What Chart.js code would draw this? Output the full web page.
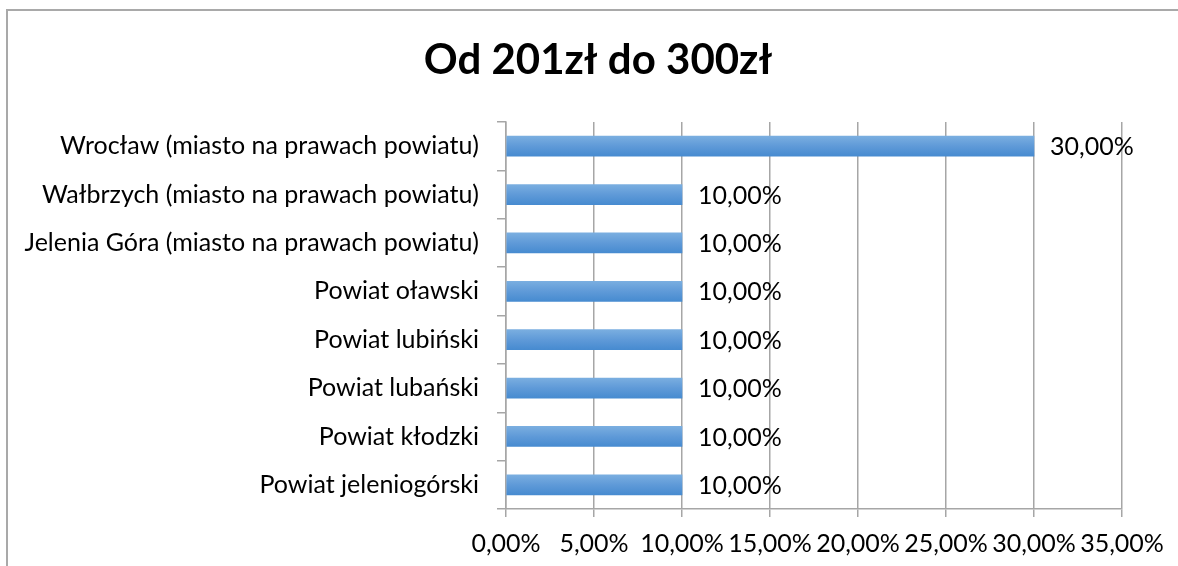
<!DOCTYPE html>
<html>
<head>
<meta charset="utf-8">
<script src="https://cdn.jsdelivr.net/npm/chart.js@4"></script>
<style>
  html, body { margin: 0; padding: 0; background: #fff; overflow: hidden; }
  #wrap { width: 1178px; height: 566px; }
  canvas { display: block; }
</style>
</head>
<body>
<div id="wrap"><canvas id="myChart" width="1178" height="566"></canvas></div>
<script>
const categories = [
  'Wrocław (miasto na prawach powiatu)',
  'Wałbrzych (miasto na prawach powiatu)',
  'Jelenia Góra (miasto na prawach powiatu)',
  'Powiat oławski',
  'Powiat lubiński',
  'Powiat lubański',
  'Powiat kłodzki',
  'Powiat jeleniogórski'
];
const shares = [30, 10, 10, 10, 10, 10, 10, 10];
const titleText = 'Od 201zł do 300zł';

const FONT = 'Lato, "Open Sans", sans-serif';

function pct(v) {
  return v.toFixed(2).replace('.', ',') + '%';
}

// Excel-like frame: only top and left edges are inside the picture
const framePlugin = {
  id: 'frame',
  beforeDraw(chart) {
    const c = chart.ctx;
    c.save();
    c.fillStyle = '#fff';
    c.fillRect(0, 0, chart.width, chart.height);
    c.strokeStyle = '#a9a9a9';
    c.lineWidth = 2;
    c.beginPath();
    c.moveTo(7, chart.height);
    c.lineTo(7, 10);
    c.lineTo(chart.width, 10);
    c.stroke();
    c.restore();
  }
};

// value labels at the end of the bars
const valueLabels = {
  id: 'valueLabels',
  afterDatasetsDraw(chart) {
    const c = chart.ctx;
    const meta = chart.getDatasetMeta(0);
    c.save();
    c.font = '25px ' + FONT;
    c.fillStyle = '#000';
    c.textBaseline = 'middle';
    c.textAlign = 'left';
    meta.data.forEach((bar, i) => {
      c.fillText(pct(shares[i]), bar.x + 16, bar.y + 1);
    });
    c.restore();
  }
};

function barFill(context) {
  const chart = context.chart;
  const yScale = chart.scales && chart.scales.y;
  if (!yScale || !chart.chartArea) return '#5f9ad8';
  const y = yScale.getPixelForValue(context.dataIndex);
  if (!Number.isFinite(y)) return '#5f9ad8';
  const h = 10;
  const g = chart.ctx.createLinearGradient(0, y - h, 0, y + h);
  g.addColorStop(0, '#7aaee0');
  g.addColorStop(0.5, '#5f9ad8');
  g.addColorStop(1, '#478bd0');
  return g;
}

var ctx = document.getElementById('myChart');

const barChart = new Chart(ctx, {
  type: 'bar',
  data: {
    labels: categories,
    datasets: [{
      data: shares,
      backgroundColor: barFill,
      borderWidth: 0,
      barThickness: 20
    }]
  },
  options: {
    indexAxis: 'y',
    responsive: false,
    animation: false,
    layout: { padding: { top: 10, right: 0, left: 18, bottom: 0 } },
    plugins: {
      legend: { display: false },
      tooltip: { enabled: false },
      title: {
        display: true,
        text: titleText,
        color: '#000',
        font: { family: FONT, size: 42, weight: 'bold' },
        padding: { top: 25, bottom: 36.6 }
      }
    },
    scales: {
      x: {
        min: 0,
        max: 35,
        ticks: {
          stepSize: 5,
          color: '#000',
          font: { family: FONT, size: 25 },
          padding: 12,
          maxRotation: 0,
          callback: v => pct(v)
        },
        grid: { color: '#a6a6a6', lineWidth: 1.5, tickLength: 8 },
        border: { color: '#a6a6a6', width: 1.5 },
        afterFit(scale) {
          scale.height = 57;
          scale.paddingRight = 56;
        }
      },
      y: {
        ticks: {
          color: '#000',
          font: { family: FONT, size: 25 },
          padding: 18
        },
        grid: { color: '#a6a6a6', lineWidth: 1.5, tickLength: 9, drawOnChartArea: false, offset: true },
        border: { color: '#a6a6a6', width: 1.5 },
        afterFit(scale) { scale.width = 488; }
      }
    }
  },
  plugins: [framePlugin, valueLabels]
});
</script>
</body>
</html>
